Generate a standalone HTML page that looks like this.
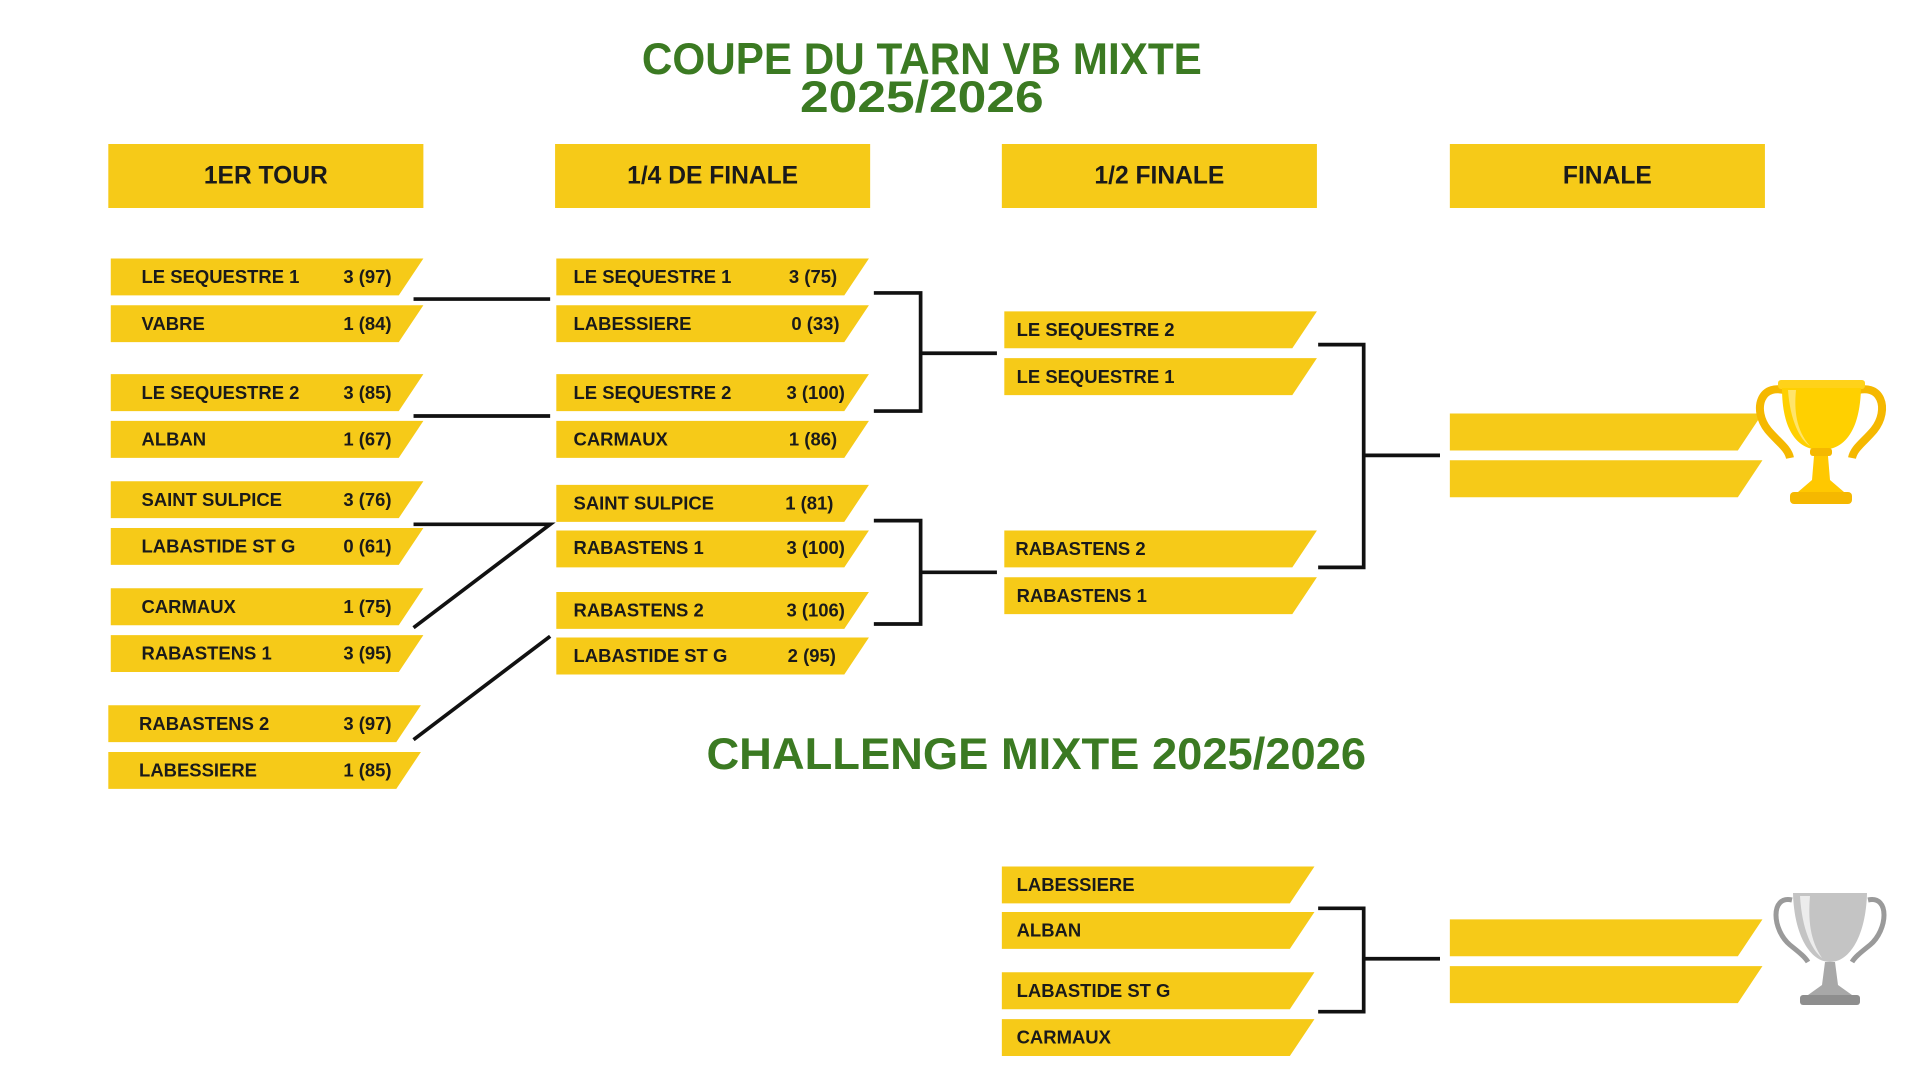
<!DOCTYPE html>
<html><head><meta charset="utf-8"><style>
html,body{margin:0;padding:0;background:#fff;width:1920px;height:1080px;overflow:hidden}
svg{display:block}
.t{font-family:"Liberation Sans",sans-serif;font-weight:bold;fill:#1a1a1a;font-size:15px}
.h{font-family:"Liberation Sans",sans-serif;font-weight:bold;fill:#1a1a1a;font-size:20px}
.g{font-family:"Liberation Sans",sans-serif;font-weight:bold;fill:#3b7a22;font-size:36px}
</style></head><body>
<svg width="1920" height="1080" viewBox="0 0 1560 877.5" preserveAspectRatio="none" xmlns="http://www.w3.org/2000/svg">
<defs>
<polygon id="b" points="0,0 254,0 234,30 0,30" fill="#f6ca18"/>
</defs>
<text class="g" x="749" y="60" text-anchor="middle" textLength="455" lengthAdjust="spacingAndGlyphs">COUPE DU TARN VB MIXTE</text>
<text class="g" x="749" y="91" text-anchor="middle" textLength="198" lengthAdjust="spacingAndGlyphs">2025/2026</text>
<text class="g" x="842" y="625" text-anchor="middle" textLength="536" lengthAdjust="spacingAndGlyphs">CHALLENGE MIXTE 2025/2026</text>

<g fill="#f6ca18">
<rect x="88" y="117" width="256" height="52"/><rect x="451" y="117" width="256" height="52"/>
<rect x="814" y="117" width="256" height="52"/><rect x="1178" y="117" width="256" height="52"/>
</g>
<text class="h" x="216" y="149" text-anchor="middle">1ER TOUR</text>
<text class="h" x="579" y="149" text-anchor="middle">1/4 DE FINALE</text>
<text class="h" x="942" y="149" text-anchor="middle">1/2 FINALE</text>
<text class="h" x="1306" y="149" text-anchor="middle">FINALE</text>

<!-- col1 -->
<use href="#b" x="90" y="210"/><use href="#b" x="90" y="248"/>
<use href="#b" x="90" y="304"/><use href="#b" x="90" y="342"/>
<use href="#b" x="90" y="391"/><use href="#b" x="90" y="429"/>
<use href="#b" x="90" y="478"/><use href="#b" x="90" y="516"/>
<use href="#b" x="88" y="573"/><use href="#b" x="88" y="611"/>
<g class="t">
<text x="115" y="230">LE SEQUESTRE 1</text><text x="279" y="230">3 (97)</text>
<text x="115" y="268">VABRE</text><text x="279" y="268">1 (84)</text>
<text x="115" y="324">LE SEQUESTRE 2</text><text x="279" y="324">3 (85)</text>
<text x="115" y="362">ALBAN</text><text x="279" y="362">1 (67)</text>
<text x="115" y="411">SAINT SULPICE</text><text x="279" y="411">3 (76)</text>
<text x="115" y="449">LABASTIDE ST G</text><text x="279" y="449">0 (61)</text>
<text x="115" y="498">CARMAUX</text><text x="279" y="498">1 (75)</text>
<text x="115" y="536">RABASTENS 1</text><text x="279" y="536">3 (95)</text>
<text x="113" y="593">RABASTENS 2</text><text x="279" y="593">3 (97)</text>
<text x="113" y="631">LABESSIERE</text><text x="279" y="631">1 (85)</text>
</g>
<!-- col2 -->
<use href="#b" x="452" y="210"/><use href="#b" x="452" y="248"/>
<use href="#b" x="452" y="304"/><use href="#b" x="452" y="342"/>
<use href="#b" x="452" y="394"/><use href="#b" x="452" y="431"/>
<use href="#b" x="452" y="481"/><use href="#b" x="452" y="518"/>
<g class="t">
<text x="466" y="230">LE SEQUESTRE 1</text><text x="641" y="230">3 (75)</text>
<text x="466" y="268">LABESSIERE</text><text x="643" y="268">0 (33)</text>
<text x="466" y="324">LE SEQUESTRE 2</text><text x="639" y="324">3 (100)</text>
<text x="466" y="362">CARMAUX</text><text x="641" y="362">1 (86)</text>
<text x="466" y="414">SAINT SULPICE</text><text x="638" y="414">1 (81)</text>
<text x="466" y="450">RABASTENS 1</text><text x="639" y="450">3 (100)</text>
<text x="466" y="501">RABASTENS 2</text><text x="639" y="501">3 (106)</text>
<text x="466" y="538">LABASTIDE ST G</text><text x="640" y="538">2 (95)</text>
</g>
<!-- col3 -->
<use href="#b" x="816" y="253"/><use href="#b" x="816" y="291"/>
<use href="#b" x="816" y="431"/><use href="#b" x="816" y="469"/>
<use href="#b" x="814" y="704"/><use href="#b" x="814" y="741"/>
<use href="#b" x="814" y="790"/><use href="#b" x="814" y="828"/>
<g class="t">
<text x="826" y="273">LE SEQUESTRE 2</text>
<text x="826" y="311">LE SEQUESTRE 1</text>
<text x="825" y="451">RABASTENS 2</text>
<text x="826" y="489">RABASTENS 1</text>
<text x="826" y="724">LABESSIERE</text>
<text x="826" y="761">ALBAN</text>
<text x="826" y="810">LABASTIDE ST G</text>
<text x="826" y="848">CARMAUX</text>
</g>
<!-- col4 -->
<use href="#b" x="1178" y="336"/><use href="#b" x="1178" y="374"/>
<use href="#b" x="1178" y="747"/><use href="#b" x="1178" y="785"/>

<!-- connectors -->
<g stroke="#111" stroke-width="3" fill="none">
<path d="M336 243H447M336 338H447M336 426H447L336 510M447 517L336 601"/>
<path d="M710 238H748V334H710M748 287H810"/>
<path d="M710 423H748V507H710M748 465H810"/>
<path d="M1071 280H1108V461H1071M1108 370H1170"/>
<path d="M1071 738H1108V822H1071M1108 779H1170"/>
</g>

<!-- gold trophy (real px coords scaled) -->
<g transform="scale(0.8125)">
<path d="M1790 392 C1760 380 1752 410 1768 430 C1778 442 1788 448 1790 458" stroke="#f5b800" stroke-width="8" fill="none"/>
<path d="M1852 392 C1882 380 1890 410 1874 430 C1864 442 1854 448 1852 458" stroke="#f5b800" stroke-width="8" fill="none"/>
<rect x="1778" y="380" width="87" height="9" rx="3" fill="#ffd21a"/>
<path d="M1782 388 H1861 C1860 430 1845 450 1821 450 C1797 450 1782 430 1782 388Z" fill="#ffd000"/>
<path d="M1788 390 C1790 420 1800 440 1810 446 C1796 430 1794 410 1796 390Z" fill="#ffe46a"/>
<rect x="1810" y="448" width="22" height="8" rx="3" fill="#f5b800"/>
<path d="M1814 456 H1828 L1830 480 L1844 492 H1798 L1812 480Z" fill="#ffc800"/>
<rect x="1790" y="492" width="62" height="12" rx="4" fill="#f5b800"/>
</g>
<!-- silver trophy -->
<g transform="scale(0.8125)">
<path d="M1792 900 C1770 895 1772 930 1790 945 C1800 953 1805 957 1808 962" stroke="#9a9a9a" stroke-width="5" fill="none"/>
<path d="M1868 900 C1890 895 1888 930 1870 945 C1860 953 1855 957 1852 962" stroke="#9a9a9a" stroke-width="5" fill="none"/>
<path d="M1793 893 H1867 C1866 935 1850 962 1830 962 C1810 962 1794 935 1793 893Z" fill="#c4c4c4"/>
<path d="M1800 896 C1802 930 1812 950 1822 958 C1810 940 1808 920 1810 896Z" fill="#ececec"/>
<path d="M1825 962 H1835 L1838 985 L1852 995 H1808 L1822 985Z" fill="#a8a8a8"/>
<rect x="1800" y="995" width="60" height="10" rx="3" fill="#8e8e8e"/>
</g>
</svg>
</body></html>
